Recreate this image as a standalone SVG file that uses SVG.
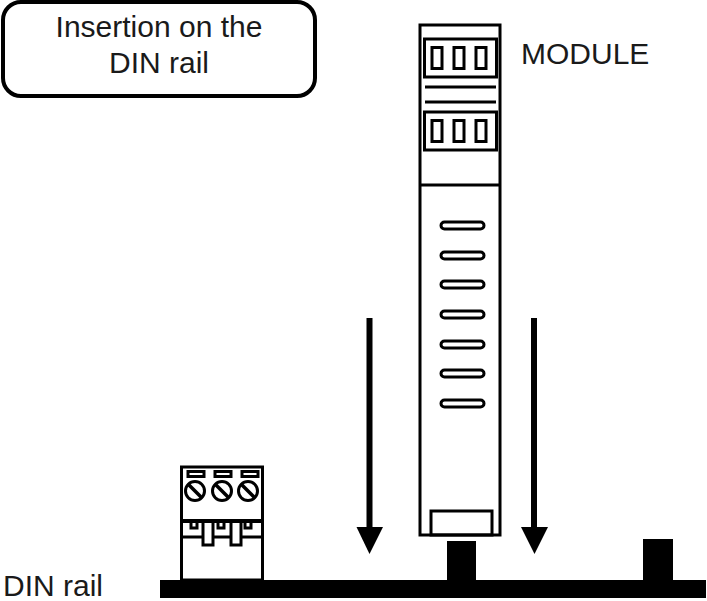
<svg xmlns="http://www.w3.org/2000/svg" width="707" height="601" viewBox="0 0 707 601">
<style>
.l{fill:#fff;stroke:#000;stroke-width:3}
.n{fill:none;stroke:#000;stroke-width:3}
.b{fill:none;stroke:#000;stroke-width:3.500}
.t{font-family:"Liberation Sans",Arial,sans-serif;font-size:30px;fill:#1a1a1a}
.k{fill:#000}
</style>
<defs>
<g id="slot"><rect x="-5" y="-10.500" width="10" height="21" class="n"/></g>
<g id="screw"><circle r="9.500" class="n"/><line x1="-7" y1="-7" x2="7" y2="7" class="b"/></g>
</defs>
<rect width="707" height="601" fill="#fff"/>
<g id="label-box">
<rect x="3" y="2" width="312" height="94" rx="18" fill="#fff" stroke="#000" stroke-width="4"/>
<text class="t" x="159" y="37" text-anchor="middle">Insertion on the</text>
<text class="t" x="159" y="73" text-anchor="middle">DIN rail</text>
</g>
<g id="din-rail">
<rect class="k" x="160" y="580" width="546" height="18"/>
<rect class="k" x="447" y="541" width="29" height="40"/>
<rect class="k" x="643" y="539" width="30" height="42"/>
<text class="t" x="3" y="596">DIN rail</text>
</g>
<g id="module">
<rect class="l" x="420" y="25" width="80" height="510"/>
<line class="n" x1="420" y1="185" x2="500" y2="185"/>
<rect class="n" x="424.500" y="39" width="72" height="38"/>
<use href="#slot" x="437" y="58"/><use href="#slot" x="459" y="58"/><use href="#slot" x="481" y="58"/>
<line class="n" x1="425" y1="87" x2="496" y2="87"/>
<line class="n" x1="425" y1="102" x2="496" y2="102"/>
<rect class="n" x="424.500" y="112" width="72" height="38"/>
<use href="#slot" x="437" y="131"/><use href="#slot" x="459" y="131"/><use href="#slot" x="481" y="131"/>
<rect class="n" x="441" y="222" width="43" height="7" rx="3.500"/>
<rect class="n" x="441" y="252" width="43" height="7" rx="3.500"/>
<rect class="n" x="441" y="281" width="43" height="7" rx="3.500"/>
<rect class="n" x="441" y="311" width="43" height="7" rx="3.500"/>
<rect class="n" x="441" y="341" width="43" height="7" rx="3.500"/>
<rect class="n" x="441" y="370" width="43" height="7" rx="3.500"/>
<rect class="n" x="441" y="400" width="43" height="7" rx="3.500"/>
<rect class="n" x="431" y="511" width="61" height="24"/>
<text class="t" x="521" y="64">MODULE</text>
</g>
<g id="terminal">
<rect class="l" x="181.500" y="467" width="81" height="113"/>
<rect class="n" x="188" y="471.500" width="16" height="5"/>
<rect class="n" x="215" y="471.500" width="16" height="5"/>
<rect class="n" x="242" y="471.500" width="16" height="5"/>
<use href="#screw" x="195" y="491"/><use href="#screw" x="222" y="491"/><use href="#screw" x="248" y="491"/>
<rect class="k" x="181" y="519" width="82" height="4"/>
<path class="n" d="M181 537H203M213 537H231M241 537H263"/>
<path class="n" d="M203 522V545H213V522M231 522V545H241V522"/>
<path class="n" d="M191 522V528H197V522M218 522V528H224V522M245 522V528H251V522"/>
</g>
<g id="connectors">
<line x1="369.500" y1="318" x2="369.500" y2="528" stroke="#000" stroke-width="6"/>
<polygon class="k" points="356.500,527 383,527 369.500,554"/>
<line x1="534" y1="318" x2="534" y2="528" stroke="#000" stroke-width="6"/>
<polygon class="k" points="521,527 548,527 534.500,554"/>
</g>
</svg>
